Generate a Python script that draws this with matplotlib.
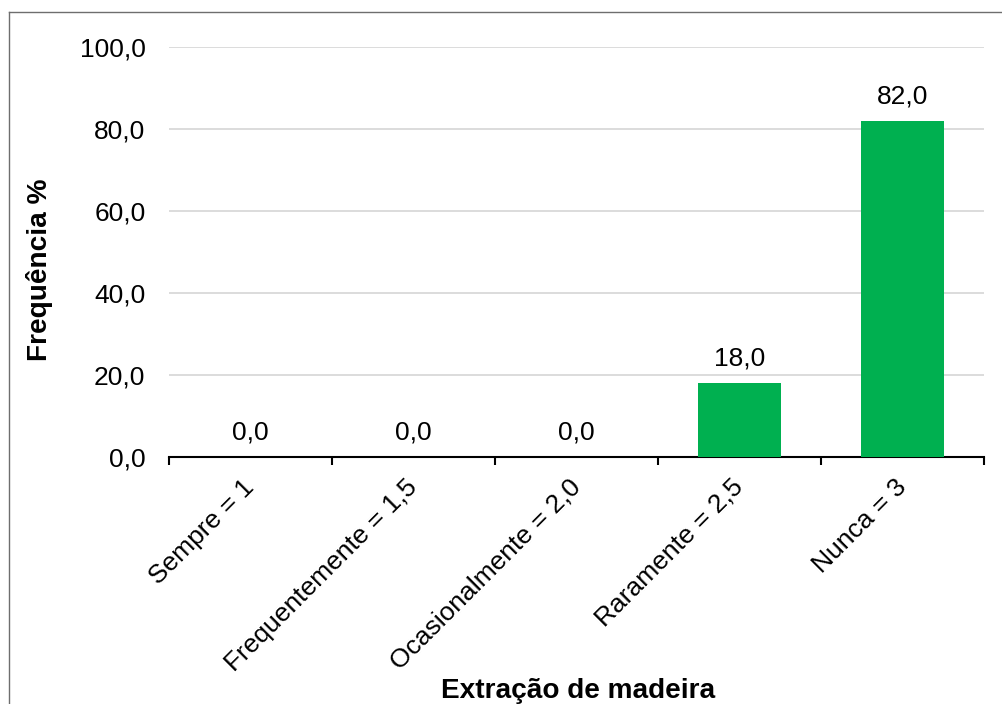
import matplotlib
matplotlib.use("Agg")
import matplotlib.pyplot as plt
from matplotlib.lines import Line2D
import numpy as np

plt.rcParams['font.family'] = ['Liberation Sans', 'DejaVu Sans']

categories = ["Sempre = 1", "Frequentemente = 1,5", "Ocasionalmente = 2,0", "Raramente = 2,5", "Nunca = 3"]
values = [0.0, 0.0, 0.0, 18.0, 82.0]
yticks = [0, 20, 40, 60, 80, 100]

W, H = 1002, 704
FS = 19
fig = plt.figure(figsize=(W / 100, H / 100), dpi=100)
ax = fig.add_axes([169 / W, 1 - 457 / H, (984 - 169) / W, (457 - 47) / H])

x = np.arange(len(categories))
ax.bar(x, values, width=0.51, color="#00B050", zorder=3)
for xi, v in zip(x, values):
    ax.annotate(f"{v:.1f}".replace(".", ","), (xi, v), xytext=(0, 9), textcoords="offset points",
                ha="center", va="bottom", fontsize=FS, color="black")

ax.set_xlim(-0.5, len(categories) - 0.5)
ax.set_ylim(0, 100)
ax.set_yticks(yticks)
ax.set_yticklabels([f"{t:.1f}".replace(".", ",") for t in yticks], fontsize=FS)
ax.yaxis.grid(True, color="#D9D9D9", linewidth=1.3, zorder=0)
ax.tick_params(axis="y", length=0, pad=17)

ax.set_xticks(x)
ax.set_xticklabels(categories, rotation=45, ha="right", va="center", rotation_mode="anchor", fontsize=FS)
ax.set_xticks(np.arange(-0.5, len(categories)), minor=True)
ax.tick_params(axis="x", which="major", length=0, pad=19)
ax.tick_params(axis="x", which="minor", length=6, width=1.5, direction="out")

for s in ["top", "right", "left"]:
    ax.spines[s].set_visible(False)
ax.spines["bottom"].set_linewidth(1.5)

fig.text(40 / W, 1 - 270 / H, "Frequência %", rotation=90, ha="center", va="center",
         fontsize=20.2, fontweight="bold")
fig.text(578 / W, 1 - 691 / H, "Extração de madeira", ha="center", va="center",
         fontsize=20.2, fontweight="bold")

fig.add_artist(Line2D([8.5 / W, 8.5 / W], [0, 1 - 11.5 / H], transform=fig.transFigure,
                      color="#6E6E6E", linewidth=1))
fig.add_artist(Line2D([8.5 / W, 1], [1 - 11.5 / H, 1 - 11.5 / H], transform=fig.transFigure,
                      color="#6E6E6E", linewidth=1))

fig.savefig("out.png", dpi=100)
